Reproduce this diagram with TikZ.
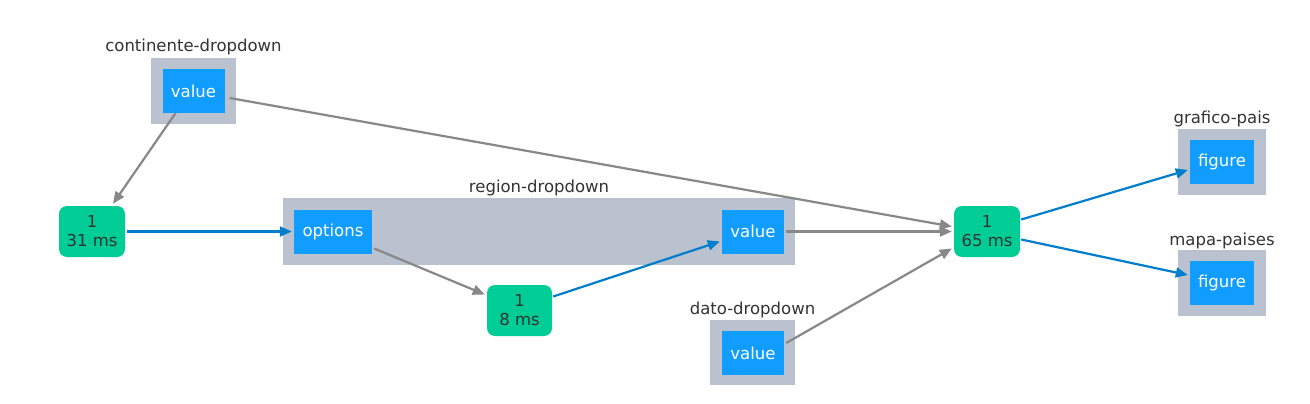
\documentclass[tikz,border=0pt]{standalone}
\usepackage{fontspec}
\setmainfont{DejaVu Sans}
\usetikzlibrary{arrows.meta}

\begin{document}
\begin{tikzpicture}[x=1pt,y=-1pt,
  font=\fontsize{16.5}{19}\selectfont,
  holder/.style={shape=rectangle,fill=dash_holder,inner sep=0pt},
  prop/.style={shape=rectangle,fill=dash_prop,text=white,inner sep=0pt,minimum width=62pt,minimum height=44pt},
  cback/.style={shape=rectangle,rounded corners=8pt,fill=dash_cb,text=dash_text,align=center,inner sep=0pt,minimum width=66pt,minimum height=51pt},
  title/.style={text=dash_text,inner sep=0pt},
  graylink/.style={-{Triangle[length=12pt,width=10pt]},line width=2.2pt,color=dash_gray},
  bluelink/.style={-{Triangle[length=12pt,width=10pt]},line width=2.2pt,color=dash_blue}]
\definecolor{dash_holder}{RGB}{185,194,206}
\definecolor{dash_prop}{RGB}{17,157,255}
\definecolor{dash_cb}{RGB}{0,204,150}
\definecolor{dash_text}{RGB}{51,51,51}
\definecolor{dash_gray}{RGB}{136,136,136}
\definecolor{dash_blue}{RGB}{0,125,205}
\useasboundingbox[fill=white] (0,0) rectangle (1310,404);
% components
\node[holder,minimum width=85pt,minimum height=66pt] (conth) at (193.5,91) {};
\node[prop] (contv) at (193.5,91) {value};
\node[title] at (193.5,47) {continente-dropdown};
\node[holder,minimum width=512pt,minimum height=67pt] (regh) at (539,231.5) {};
\node[prop,minimum width=78pt] (rego) at (333,231.5) {options};
\node[prop] (regv) at (753,231.5) {value};
\node[title] at (539,188) {region-dropdown};
\node[holder,minimum width=85pt,minimum height=65pt] (datoh) at (752.5,352.5) {};
\node[prop] (datov) at (753,353) {value};
\node[title] at (752.5,310) {dato-dropdown};
\node[holder,minimum width=88pt,minimum height=66pt] (grafh) at (1222,162) {};
\node[prop,minimum width=64pt] (grafv) at (1222,162) {figure};
\node[title] at (1222,119) {grafico-pais};
\node[holder,minimum width=88pt,minimum height=66pt] (mapah) at (1222,283) {};
\node[prop,minimum width=64pt] (mapav) at (1222,283) {figure};
\node[title] at (1222,241) {mapa-paises};
% callbacks
\node[cback] (cbA) at (92,231.5) {1\\31 ms};
\node[cback,minimum width=65pt] (cbB) at (519.5,310.5) {1\\8 ms};
\node[cback] (cbC) at (987,231.5) {1\\65 ms};
% links
\draw[graylink] ([xshift=-18pt]contv.south) to ([xshift=21pt,yshift=2pt]cbA.north);
\draw[graylink] ([xshift=5pt,yshift=-7pt]contv.east) to ([xshift=-2pt,yshift=5pt]cbC.west);
\draw[bluelink] ([xshift=2pt]cbA.east) to ([xshift=-2pt]rego.west);
\draw[graylink] ([xshift=2pt,yshift=-17pt]rego.east) to ([xshift=-2pt,yshift=16pt]cbB.west);
\draw[bluelink] ([xshift=1pt,yshift=14pt]cbB.east) to ([xshift=-2pt,yshift=-10pt]regv.west);
\draw[graylink] ([xshift=2pt]regv.east) to ([xshift=-2pt]cbC.west);
\draw[graylink] ([xshift=2pt,yshift=10pt]datov.east) to ([xshift=-2pt,yshift=-17pt]cbC.west);
\draw[bluelink] ([xshift=1pt,yshift=12pt]cbC.east) to ([xshift=-2pt,yshift=-8pt]grafv.west);
\draw[bluelink] ([xshift=1pt,yshift=-8pt]cbC.east) to ([xshift=-2pt,yshift=8pt]mapav.west);
\end{tikzpicture}
\end{document}
